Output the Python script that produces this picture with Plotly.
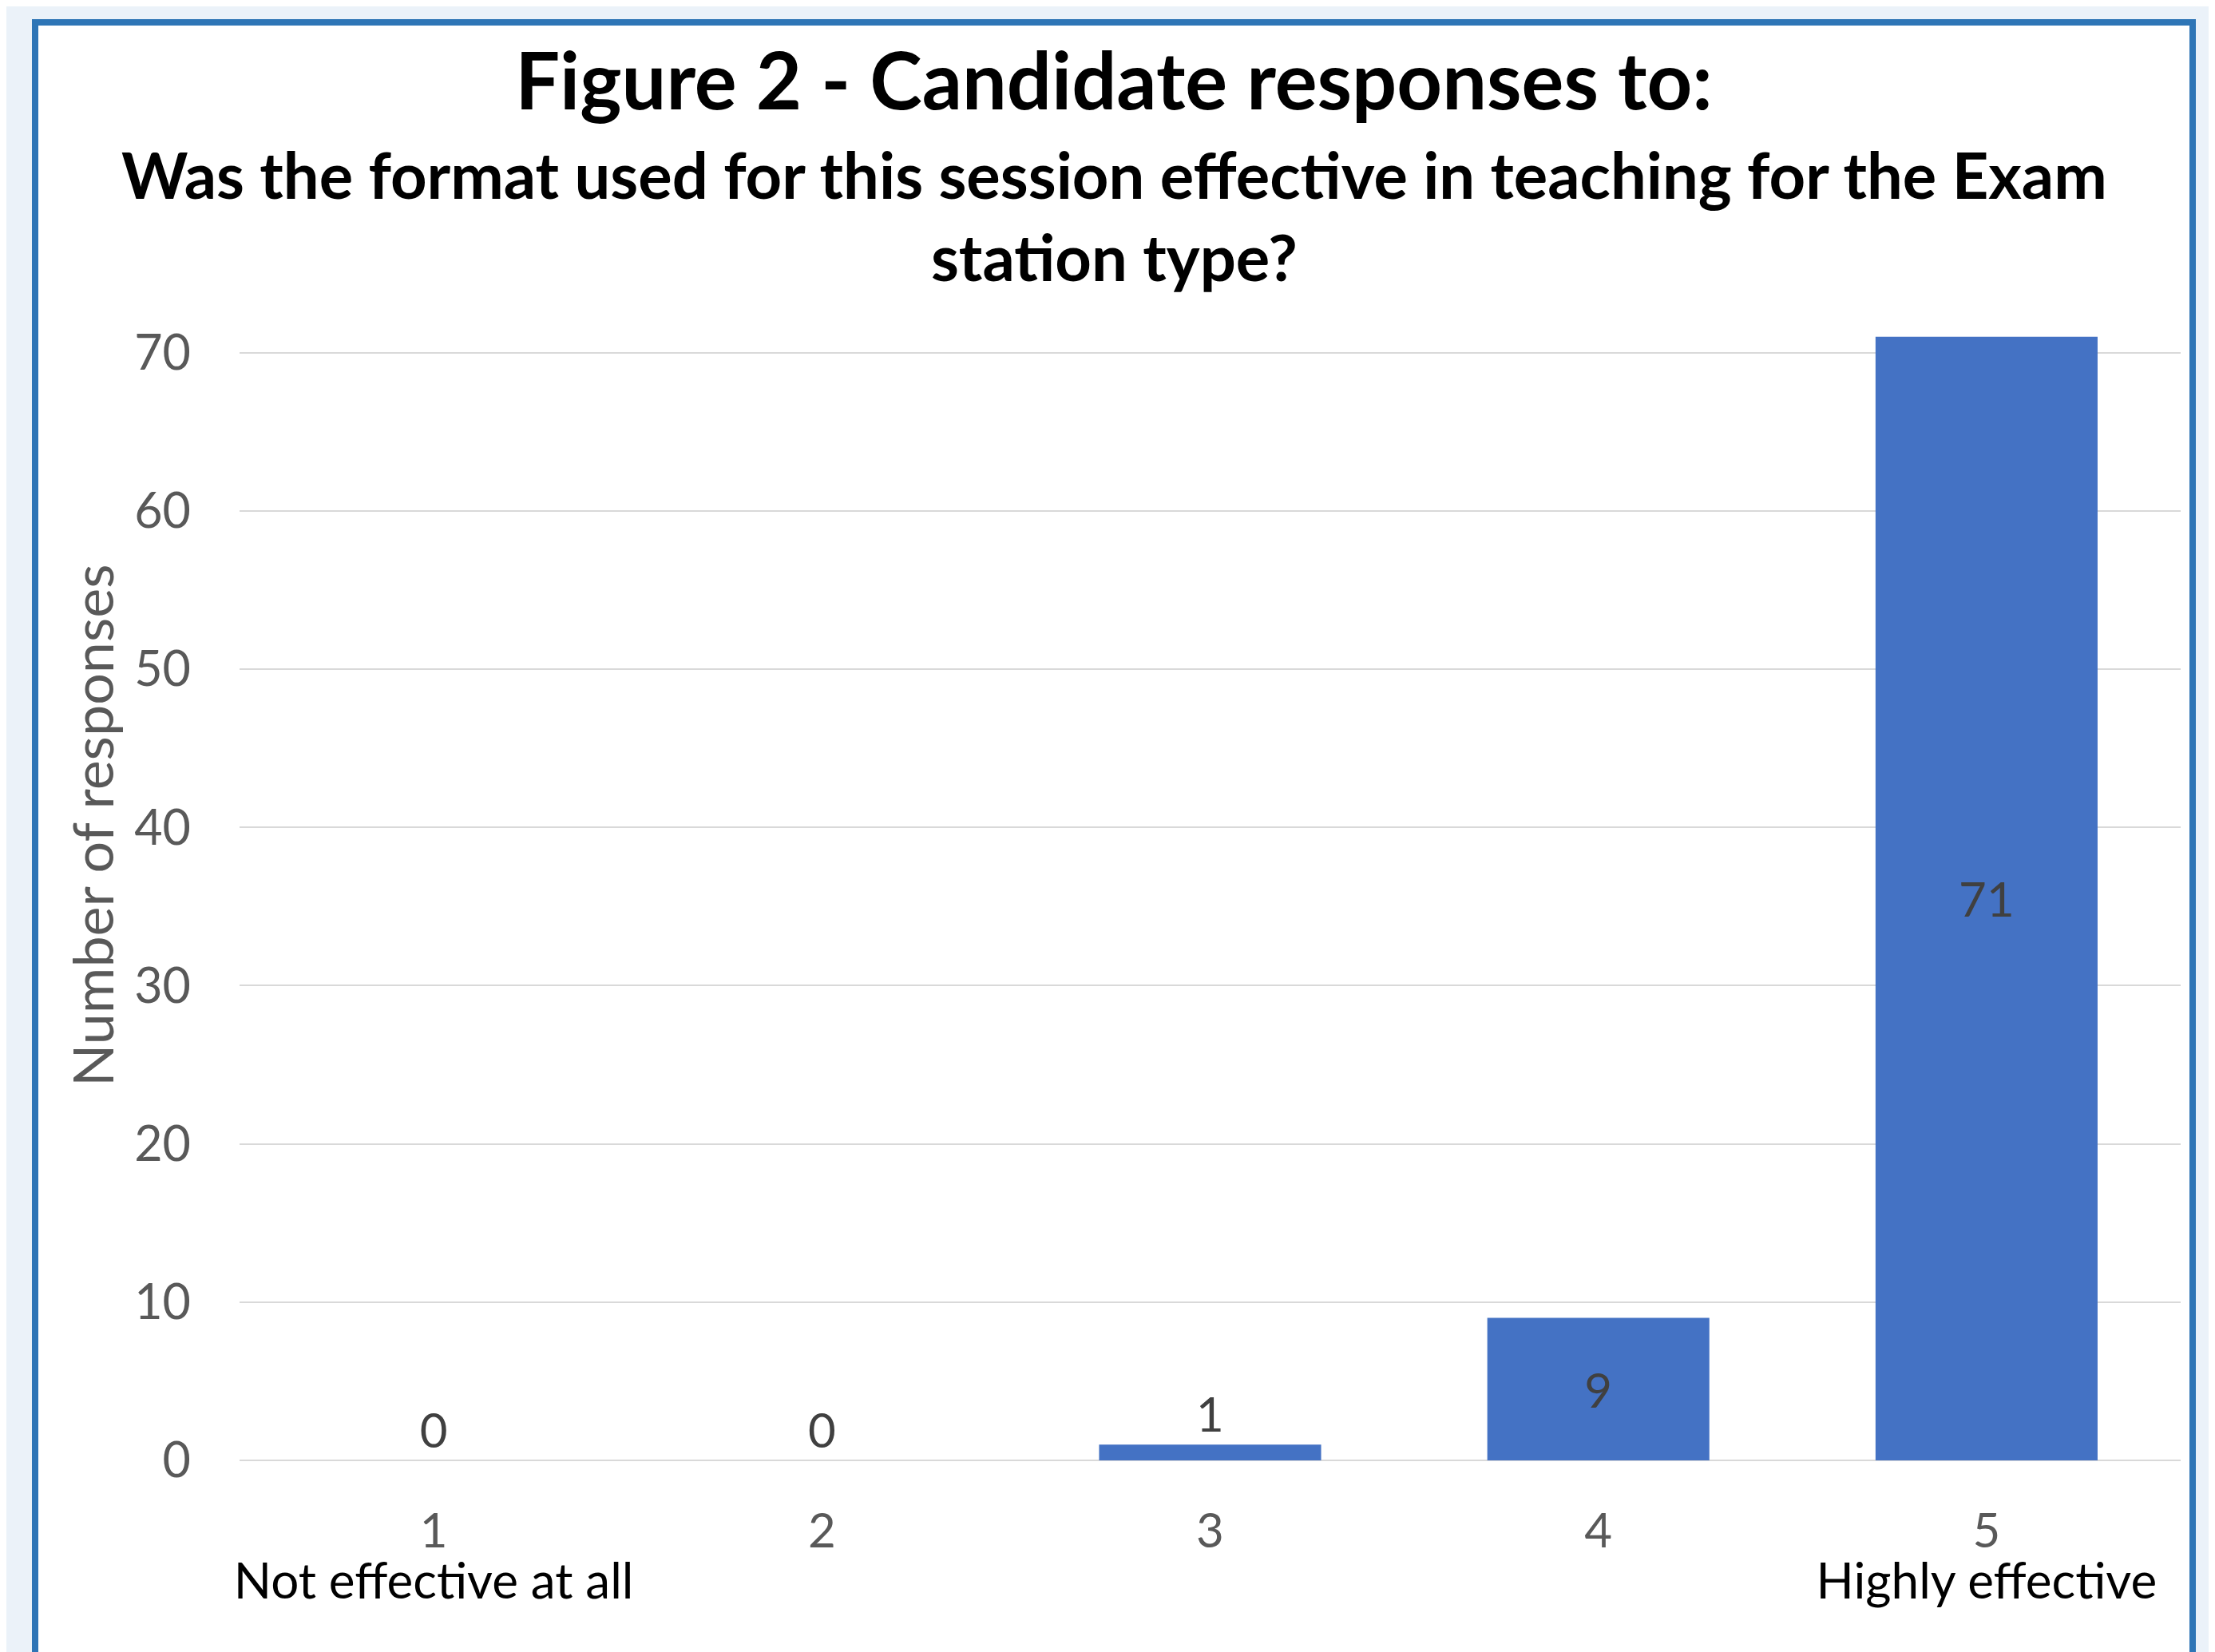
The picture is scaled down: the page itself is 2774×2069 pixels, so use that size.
import plotly.graph_objects as go

# ---- data ----
categories = ["1", "2", "3", "4", "5"]
responses = [0, 0, 1, 9, 71]
label_positions = ["outside", "outside", "outside", "inside", "inside"]
category_notes = ["Not effective at all", "", "", "", "Highly effective"]
y_ticks = [0, 10, 20, 30, 40, 50, 60, 70]

title_main = "Figure 2 - Candidate responses to:"
title_sub = "Was the format used for this session effective in teaching for the Exam<br>station type?"
y_title = "Number of responses"

# ---- layout geometry (screen px; page body adds an 8px offset) ----
W, H = 2774, 2069
OFF = 8
L, R, T, B = 300 - OFF, 2774 - 2731 + OFF, 421 - OFF, 2069 - 1829 + OFF
PW, PH = W - L - R, H - T - B

def px_x(sx):
    return (sx - OFF - L) / PW

def px_y(sy):
    return (H - B - (sy - OFF)) / PH

FONT = "Lato"
GRAY = "#595959"
LABEL = "#404040"

ticktext = []
for c, n in zip(categories, category_notes):
    t = f"<span style='font-size:60px;color:{GRAY}'>{c}</span>"
    if n:
        t += f"<br><span style='font-size:62px;color:black'>{n}</span>"
    ticktext.append(t)

fig = go.Figure(
    go.Bar(
        x=categories,
        y=responses,
        marker=dict(color="#4472C4", line=dict(width=0)),
        text=[str(v) for v in responses],
        textposition=label_positions,
        insidetextanchor="middle",
        textfont=dict(family=FONT, size=60, color=LABEL),
        insidetextfont=dict(family=FONT, size=60, color=LABEL),
        outsidetextfont=dict(family=FONT, size=60, color=LABEL),
        constraintext="none",
        cliponaxis=False,
    )
)

annotations = [
    dict(
        text=f"<b>{title_sub}</b>",
        xref="paper", yref="paper",
        x=px_x(1395), y=px_y(270),
        xanchor="center", yanchor="middle",
        showarrow=False,
        font=dict(family=FONT, size=79.5, color="black"),
    ),
    dict(
        text=y_title,
        xref="paper", yref="paper",
        x=px_x(115), y=px_y(1034),
        xanchor="center", yanchor="middle",
        textangle=-90,
        showarrow=False,
        font=dict(family=FONT, size=70, color=GRAY),
    ),
]

fig.update_layout(
    width=W,
    height=H,
    margin=dict(l=L, r=R, t=T, b=B, pad=0),
    paper_bgcolor="#EBF2F9",
    plot_bgcolor="white",
    bargap=0.428,
    showlegend=False,
    font=dict(family=FONT, color=GRAY),
    title=dict(
        text=f"<b>{title_main}</b>",
        font=dict(family=FONT, size=99, color="black"),
        x=0.5, xref="container", xanchor="center",
        y=1 - (102 - OFF) / H, yref="container", yanchor="middle",
    ),
    annotations=annotations,
    shapes=[
        dict(
            type="rect", xref="paper", yref="paper", layer="below",
            x0=px_x(44), x1=px_x(2746), y0=px_y(2200), y1=px_y(28),
            fillcolor="white", line=dict(color="#2E75B6", width=8),
        )
    ],
    xaxis=dict(
        type="category",
        range=[-0.5, len(categories) - 0.5],
        tickmode="array",
        tickvals=categories,
        ticktext=ticktext,
        tickfont=dict(family=FONT, size=49, color=GRAY),
        showgrid=False,
        showline=False,
        ticks="",
        ticklabelstandoff=59,
    ),
    yaxis=dict(
        range=[0, 71.04],
        tickmode="array",
        tickvals=y_ticks,
        tickfont=dict(family=FONT, size=61, color=GRAY),
        showgrid=True,
        gridcolor="#D9D9D9",
        gridwidth=2,
        zeroline=True,
        zerolinecolor="#D9D9D9",
        zerolinewidth=2,
        showline=False,
        ticks="",
        ticklabelstandoff=60,
    ),
)

fig.write_html("out.html")
